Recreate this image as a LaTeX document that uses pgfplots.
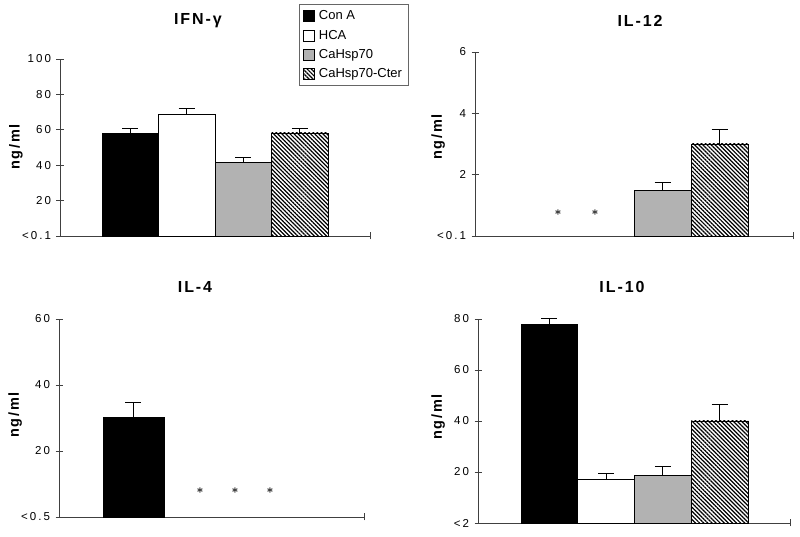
\documentclass[border=0pt]{standalone}
\usepackage{fontspec}
\setmainfont{Liberation Sans}
\usepackage{pgfplots}
\pgfplotsset{compat=1.18}
\usetikzlibrary{patterns.meta}
\newfontfamily\tickfam[LetterSpace=18]{Liberation Sans}
\newfontfamily\titlefam[LetterSpace=12]{Liberation Sans}
\newcommand\tickfont{\tickfam\fontsize{11.5}{13}\selectfont}
\newcommand\titlefont{\titlefam\bfseries\fontsize{16}{18}\selectfont}
\newcommand\labfont{\titlefam\bfseries\fontsize{14.5}{16}\selectfont}
\newcommand\legfont{\fontsize{13}{15}\selectfont}
\newcommand\sigstar{{\fontsize{13}{13}\selectfont\boldmath$\ast$}}
\pgfplotsset{
  panel/.style={
    scale only axis, ybar, bar width=1, bar shift=0pt,
    axis x line=bottom, axis y line=left,
    axis line style={-, black!75, line width=0.7pt},
    tick align=center, major tick length=7pt,
    tick style={black!75, line width=0.7pt},
    xticklabels={},
    yticklabel style={font=\tickfont, xshift=-2pt},
    ymin=0, clip=false,
    title style={font=\titlefont, anchor=center, yshift=0pt},
    ylabel style={font=\labfont, anchor=center},
    error bars/y dir=plus, error bars/y explicit,
    error bars/error bar style={black, line width=0.9pt},
    error bars/error mark options={rotate=90, mark size=8pt, line width=0.9pt, black},
  },
  conA/.style={fill=black, draw=black, line width=0.9pt},
  hca/.style={fill=white, draw=black, line width=0.9pt},
  hsp/.style={fill=black!30, draw=black, line width=0.9pt},
  cter/.style={pattern={Lines[angle=-45,distance=2.9pt,line width=1.2pt]}, draw=black, line width=0.9pt},
}
\begin{document}
\begin{tikzpicture}
\useasboundingbox (0,0) rectangle (800pt,537pt);
% IFN-gamma
\begin{axis}[panel, at={(60pt,301pt)}, anchor=south west, width=310pt, height=177pt,
  xmin=-0.243, xmax=5.243, xtick={5.243}, ymax=100,
  ytick={0,20,40,60,80,100}, yticklabels={<0.1,20,40,60,80,100},
  title={IFN-γ}, title style={at={(axis description cs:0.445,1.181)}},
  ylabel={ng/ml}, ylabel style={at={(axis description cs:-0.142,0.503)}},
  legend style={at={(axis description cs:0.771,1.311)}, anchor=north west, draw=black!60,
    line width=0.6pt, font=\legfont, inner xsep=4pt, inner ysep=4.5pt, row sep=4.7pt,
    nodes={inner sep=2pt}, /tikz/every odd column/.append style={column sep=2pt}},
  legend cell align=left,
  legend image code/.code={\draw[#1, line width=0.6pt] (0pt,-5.5pt) rectangle (11pt,5.5pt);},
]
\addplot[conA] coordinates {(1,58) +- (0,3)};
\addplot[hca] coordinates {(2,68.4) +- (0,3.4)};
\addplot[hsp] coordinates {(3,41.8) +- (0,2.4)};
\addplot[cter] coordinates {(4,58.2) +- (0,2.4)};
\legend{Con A, HCA, CaHsp70, CaHsp70-Cter}
\end{axis}
% IL-12
\begin{axis}[panel, at={(475pt,301pt)}, anchor=south west, width=318pt, height=184pt,
  xmin=-0.289, xmax=5.289, xtick={5.289}, ymax=6,
  ytick={0,2,4,6}, yticklabels={<0.1,2,4,6},
  title={IL-12}, title style={at={(axis description cs:0.519,1.136)}},
  ylabel={ng/ml}, ylabel style={at={(axis description cs:-0.116,0.538)}},
]
\addplot[hsp] coordinates {(3,1.5) +- (0,0.24)};
\addplot[cter] coordinates {(4,3.0) +- (0,0.46)};
\node at (axis cs:1.167,0.75) {\sigstar};
\node at (axis cs:1.816,0.75) {\sigstar};
\end{axis}
% IL-4
\begin{axis}[panel, at={(59pt,20pt)}, anchor=south west, width=305pt, height=198pt,
  xmin=-0.221, xmax=4.779, xtick={4.779}, ymax=60,
  ytick={0,20,40,60}, yticklabels={<0.5,20,40,60},
  title={IL-4}, title style={at={(axis description cs:0.446,1.131)}},
  ylabel={ng/ml}, ylabel style={at={(axis description cs:-0.144,0.515)}},
]
\addplot[conA] coordinates {(1,30.3) +- (0,4.5)};
\node at (axis cs:2.09,7.9) {\sigstar};
\node at (axis cs:2.664,7.9) {\sigstar};
\node at (axis cs:3.238,7.9) {\sigstar};
\end{axis}
% IL-10
\begin{axis}[panel, at={(478pt,14pt)}, anchor=south west, width=312pt, height=204pt,
  xmin=-0.258, xmax=5.24, xtick={5.24}, ymax=80,
  ytick={0,20,40,60,80}, yticklabels={<2,20,40,60,80},
  title={IL-10}, title style={at={(axis description cs:0.4615,1.127)}},
  ylabel={ng/ml}, ylabel style={at={(axis description cs:-0.128,0.52)}},
]
\addplot[conA] coordinates {(1,78) +- (0,2.4)};
\addplot[hca] coordinates {(2,16.9) +- (0,2.7)};
\addplot[hsp] coordinates {(3,18.8) +- (0,3.2)};
\addplot[cter] coordinates {(4,40) +- (0,6.3)};
\end{axis}
\end{tikzpicture}
\end{document}
